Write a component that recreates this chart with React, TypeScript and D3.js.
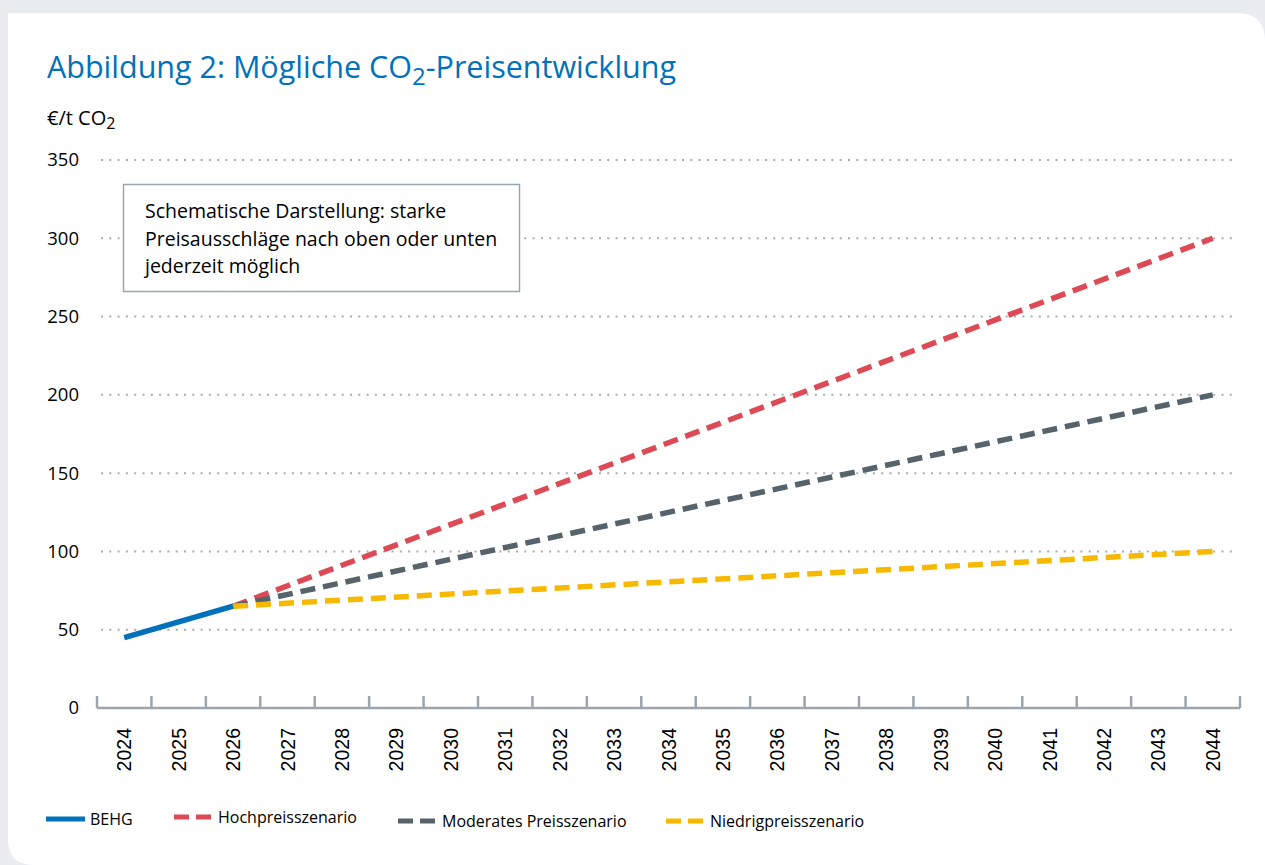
import React from 'react';
import * as d3 from 'd3';

// years on the x axis
const years = d3.range(2024, 2045).map(String);
const yTicks = [0, 50, 100, 150, 200, 250, 300, 350];

// BEHG (known path), then three scenarios starting in 2026
const behg = [
  { year: '2024', value: 45 },
  { year: '2025', value: 55 },
  { year: '2026', value: 65 },
];
const hoch = [
  { year: '2026', value: 65 },
  { year: '2044', value: 300 },
];
const moderat = [
  { year: '2026', value: 65 },
  { year: '2044', value: 200 },
];
const niedrig = [
  { year: '2026', value: 65 },
  { year: '2044', value: 100 },
];

const noteLines = [
  'Schematische Darstellung: starke',
  'Preisausschläge nach oben oder unten',
  'jederzeit möglich',
];

const W = 1265;
const H = 865;
const font = '"Open Sans", "Noto Sans", sans-serif';

export default function App() {
  const x = d3.scaleBand<string>().domain(years).range([97, 1240]).padding(0);
  const y = d3.scaleLinear().domain([0, 350]).range([708, 160]);
  const cx = (yr: string) => (x(yr) as number) + x.bandwidth() / 2;

  const line = d3
    .line<{ year: string; value: number }>()
    .x(d => cx(d.year))
    .y(d => y(d.value));

  const series = [
    { name: 'Hochpreisszenario', data: hoch, color: '#dc4a55', dash: '15 8' },
    { name: 'Moderates Preisszenario', data: moderat, color: '#56636b', dash: '15 8' },
    { name: 'Niedrigpreisszenario', data: niedrig, color: '#f7b900', dash: '15 8' },
  ];

  const legend = [
    { name: 'BEHG', color: '#0071bb', dash: null, x: 46, y: 819 },
    { name: 'Hochpreisszenario', color: '#dc4a55', dash: '15 7', x: 174, y: 817 },
    { name: 'Moderates Preisszenario', color: '#56636b', dash: '15 7', x: 398, y: 821 },
    { name: 'Niedrigpreisszenario', color: '#f7b900', dash: '15 7', x: 666, y: 821 },
  ];

  const bounds = years.map(yr => x(yr) as number).concat([x.range()[1]]);

  return (
    <svg
      width={W}
      height={H}
      style={{ position: 'absolute', left: 0, top: 0, display: 'block' }}
    >
      <rect width={W} height={H} fill="#e9edf0" />
      {/* card with rounded top-right and bottom-left corners */}
      <path
        d={`M8,13 H1237 Q1265,13 1265,41 V${H} H34 Q8,${H} 8,${H - 26} Z`}
        fill="#ffffff"
      />

      <text x={47} y={78} fill="#0072bb" fontFamily={font} fontSize={30.5} fontWeight={500}>
        Abbildung 2: Mögliche CO
        <tspan fontSize={24} dy={7}>2</tspan>
        <tspan dy={-7}>-Preisentwicklung</tspan>
      </text>
      <text x={47} y={125} fill="#000" fontFamily={font} fontSize={20}>
        €/t CO<tspan fontSize={16} dy={4}>2</tspan>
      </text>

      {/* grid */}
      {yTicks.filter(t => t > 0).map(t => (
        <line
          key={t}
          x1={101}
          x2={1232}
          y1={y(t)}
          y2={y(t)}
          stroke="#a3adb4"
          strokeWidth={2}
          strokeDasharray="2 6.3"
        />
      ))}
      {yTicks.map(t => (
        <text
          key={t}
          x={79}
          y={y(t)}
          dy="0.35em"
          textAnchor="end"
          fontFamily={font}
          fontSize={18.5}
          fill="#000"
        >
          {t}
        </text>
      ))}

      {/* x axis */}
      <line x1={97} x2={1240} y1={708} y2={708} stroke="#9aa5ad" strokeWidth={2.5} />
      {bounds.map((b, i) => (
        <line key={i} x1={b} x2={b} y1={708} y2={696} stroke="#9aa5ad" strokeWidth={2.5} />
      ))}
      {years.map(yr => (
        <text
          key={yr}
          transform={`translate(${cx(yr) + 7},728) rotate(-90)`}
          textAnchor="end"
          fontFamily='"Liberation Sans", Arial, sans-serif'
          fontSize={19.5}
          fill="#000"
        >
          {yr}
        </text>
      ))}

      {/* note box */}
      <rect x={123.5} y={184.5} width={396} height={107} fill="#fff" stroke="#9aa5ad" strokeWidth={1.5} />
      {noteLines.map((l, i) => (
        <text key={i} x={145} y={218 + i * 27.5} fontFamily={font} fontSize={19.5} fill="#000">
          {l}
        </text>
      ))}

      {/* lines */}
      {series.map(s => (
        <path
          key={s.name}
          d={line(s.data) as string}
          fill="none"
          stroke={s.color}
          strokeWidth={5.5}
          strokeDasharray={s.dash}
        />
      ))}
      <path d={line(behg) as string} fill="none" stroke="#0071bb" strokeWidth={5.5} />

      {/* legend */}
      {legend.map(l => (
        <g key={l.name}>
          <line
            x1={l.x}
            x2={l.x + 39}
            y1={l.y}
            y2={l.y}
            stroke={l.color}
            strokeWidth={5}
            strokeDasharray={l.dash ?? undefined}
          />
          <text x={l.x + 44} y={l.y} dy="0.35em" fontFamily={font} fontSize={16} fill="#000">
            {l.name}
          </text>
        </g>
      ))}
    </svg>
  );
}
